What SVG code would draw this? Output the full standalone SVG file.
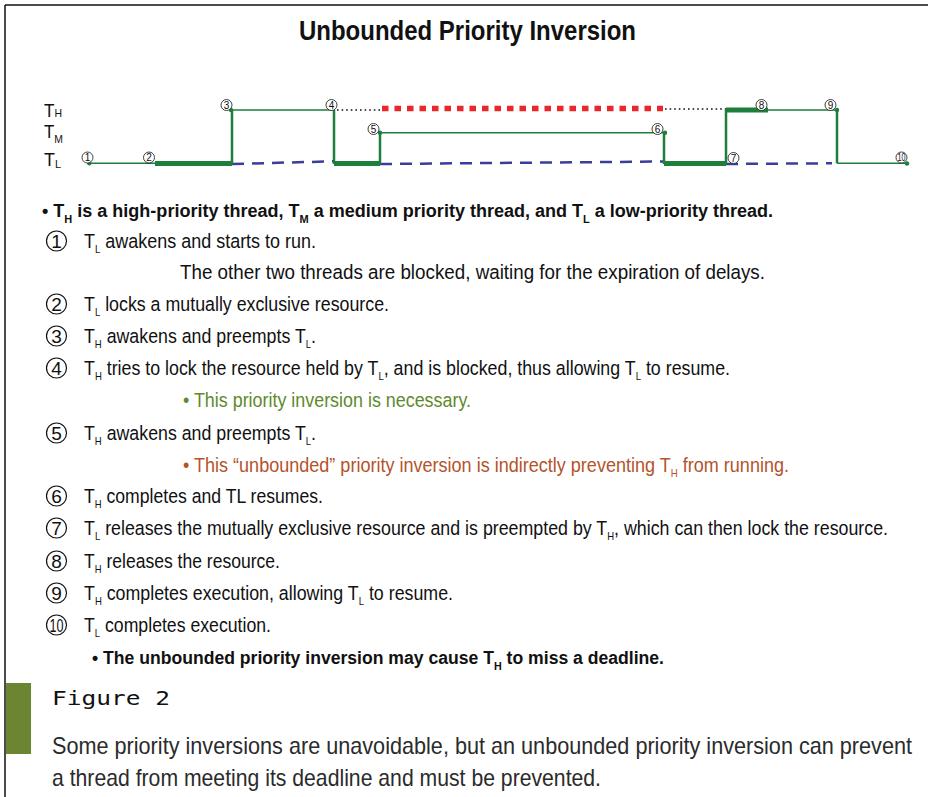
<svg xmlns="http://www.w3.org/2000/svg" width="928" height="797" viewBox="0 0 928 797">
<style>
.t{font-family:"Liberation Sans Narrow","Liberation Sans",Arial,sans-serif;fill:#111}
.reg{font-size:20.5px}
.bold{font-size:18px;font-weight:bold}
.sub{font-size:11px}
.bsub{font-size:11px;font-weight:bold}
.cn{font-family:"Liberation Sans Narrow","Liberation Sans",Arial,sans-serif;font-size:19px;fill:#111;text-anchor:middle}
.sc{font-family:"Liberation Sans Narrow","Liberation Sans",Arial,sans-serif;font-size:10px;fill:#111;text-anchor:middle}
.circ{fill:none;stroke:#111;stroke-width:1.2}
.scirc{fill:#fff;stroke:#111;stroke-width:0.8}
.g{stroke:#1e7e3c;fill:none}
.thin{stroke-width:1.6}
.vert{stroke-width:2.5}
.thick{stroke-width:5}
.blue{stroke:#3c3c9c;stroke-width:2.5;stroke-dasharray:12 8;fill:none}
.dot{stroke:#111;stroke-width:1.6;stroke-dasharray:1.6 3;fill:none}
.red{stroke:#e8262b;stroke-width:5.5;stroke-dasharray:6.5 6;fill:none}
.gd{fill:#1e7e3c}
</style>
<rect width="928" height="797" fill="#fff"/>
<g id="frame">
<line x1="5" y1="5" x2="928" y2="5" stroke="#111" stroke-width="1.5"/>
<line x1="5" y1="5" x2="5" y2="797" stroke="#111" stroke-width="1.5"/>
<rect x="6" y="683" width="25" height="71" fill="#6b8532"/>
</g>
<g id="title">
<text class="t" x="467.5" y="40" font-size="27" font-weight="bold" text-anchor="middle" textLength="337" lengthAdjust="spacingAndGlyphs">Unbounded Priority Inversion</text>
</g>
<g id="axis-labels">
<text class="t" x="44" y="117" font-size="18" textLength="18" lengthAdjust="spacingAndGlyphs">T<tspan font-size="11">H</tspan></text>
<text class="t" x="44" y="138" font-size="18" textLength="19" lengthAdjust="spacingAndGlyphs">T<tspan font-size="11" dy="5">M</tspan></text>
<text class="t" x="44" y="166" font-size="18" textLength="17" lengthAdjust="spacingAndGlyphs">T<tspan font-size="11" dy="2">L</tspan></text>
</g>
<g id="connectors">
<path class="blue" d="M232,164 L334,161.3"/>
<path class="blue" d="M380,164 L663,161.5"/>
<path class="blue" d="M726,164 L832,163.3"/>
<path class="dot" d="M337,110 H380"/>
<path class="dot" d="M665,109 H726"/>
<path class="red" d="M382,108.5 H663"/>
<path class="g thin" d="M89.3,163.3 H155 M232,110 H334 M380,132.7 H664 M768,110 H837 M837,163.3 H907"/>
<path class="g vert" d="M232,164 V110 M334,110 V164 M380,164 V132.7 M664,132.7 V164 M726,164 V110 M837,110 V163.3"/>
<path class="g thick" d="M155,163.5 H232 M334,163.5 H380 M664,163.5 H726 M726,110 H768"/>
<circle class="gd" cx="89.3" cy="163.3" r="2.2"/>
<circle class="gd" cx="231" cy="110" r="2.2"/>
<circle class="gd" cx="380" cy="132.7" r="2.2"/>
<circle class="gd" cx="665" cy="132.7" r="2.2"/>
<circle class="gd" cx="837" cy="110" r="2.2"/>
<circle class="gd" cx="907" cy="163.5" r="2.2"/>
</g>
<g id="event-markers">
<g id="m1"><circle class="scirc" cx="87.5" cy="157.5" r="5.5"/><text class="sc" x="87.5" y="161">1</text></g>
<g id="m2"><circle class="scirc" cx="149" cy="157.5" r="5.5"/><text class="sc" x="149" y="161">2</text></g>
<g id="m3"><circle class="scirc" cx="226.5" cy="105" r="5.5"/><text class="sc" x="226.5" y="108.5">3</text></g>
<g id="m4"><circle class="scirc" cx="331.5" cy="105" r="5.5"/><text class="sc" x="331.5" y="108.5">4</text></g>
<g id="m5"><circle class="scirc" cx="373.5" cy="129" r="5.5"/><text class="sc" x="373.5" y="132.5">5</text></g>
<g id="m6"><circle class="scirc" cx="657.5" cy="129" r="5.5"/><text class="sc" x="657.5" y="132.5">6</text></g>
<g id="m7"><circle class="scirc" cx="733.5" cy="158" r="5.5"/><text class="sc" x="733.5" y="161.5">7</text></g>
<g id="m8"><circle class="scirc" cx="761.5" cy="105" r="5.5"/><text class="sc" x="761.5" y="108.5">8</text></g>
<g id="m9"><circle class="scirc" cx="830.5" cy="105" r="5.5"/><text class="sc" x="830.5" y="108.5">9</text></g>
<g id="m10"><circle class="scirc" cx="901.5" cy="157.5" r="5.5"/><text class="sc" x="901.5" y="160.8" font-size="8.5" textLength="8" lengthAdjust="spacingAndGlyphs">10</text></g>
</g>
<g id="legend">
<text class="t bold" x="42" y="217" textLength="731" lengthAdjust="spacingAndGlyphs">• T<tspan class="bsub" dy="6">H</tspan><tspan dy="-6"> is a high-priority thread, T</tspan><tspan class="bsub" dy="6">M</tspan><tspan dy="-6"> a medium priority thread, and T</tspan><tspan class="bsub" dy="6">L</tspan><tspan dy="-6"> a low-priority thread.</tspan></text>
</g>
<g id="item1">
<circle class="circ" cx="56.5" cy="241" r="10"/><text class="cn" x="56.5" y="247.8">1</text>
<text class="t reg" x="84" y="248" textLength="232" lengthAdjust="spacingAndGlyphs">T<tspan class="sub" dy="5">L</tspan><tspan dy="-5"> awakens and starts to run.</tspan></text>
<text class="t reg" x="180" y="279" textLength="585" lengthAdjust="spacingAndGlyphs">The other two threads are blocked, waiting for the expiration of delays.</text>
</g>
<g id="item2">
<circle class="circ" cx="56.5" cy="304" r="10"/><text class="cn" x="56.5" y="310.8">2</text>
<text class="t reg" x="84" y="311" textLength="305" lengthAdjust="spacingAndGlyphs">T<tspan class="sub" dy="5">L</tspan><tspan dy="-5"> locks a mutually exclusive resource.</tspan></text>
</g>
<g id="item3">
<circle class="circ" cx="56.5" cy="336" r="10"/><text class="cn" x="56.5" y="342.8">3</text>
<text class="t reg" x="84" y="343" textLength="232" lengthAdjust="spacingAndGlyphs">T<tspan class="sub" dy="5">H</tspan><tspan dy="-5"> awakens and preempts T</tspan><tspan class="sub" dy="5">L</tspan><tspan dy="-5">.</tspan></text>
</g>
<g id="item4">
<circle class="circ" cx="56.5" cy="368" r="10"/><text class="cn" x="56.5" y="374.8">4</text>
<text class="t reg" x="84" y="375" textLength="646" lengthAdjust="spacingAndGlyphs">T<tspan class="sub" dy="5">H</tspan><tspan dy="-5"> tries to lock the resource held by T</tspan><tspan class="sub" dy="5">L</tspan><tspan dy="-5">, and is blocked, thus allowing T</tspan><tspan class="sub" dy="5">L</tspan><tspan dy="-5"> to resume.</tspan></text>
<text class="t reg" x="183" y="407" style="fill:#5e8a2c" textLength="288" lengthAdjust="spacingAndGlyphs">• This priority inversion is necessary.</text>
</g>
<g id="item5">
<circle class="circ" cx="56.5" cy="433" r="10"/><text class="cn" x="56.5" y="439.8">5</text>
<text class="t reg" x="84" y="440" textLength="232" lengthAdjust="spacingAndGlyphs">T<tspan class="sub" dy="5">H</tspan><tspan dy="-5"> awakens and preempts T</tspan><tspan class="sub" dy="5">L</tspan><tspan dy="-5">.</tspan></text>
<text class="t reg" x="183" y="472" style="fill:#b4532a" textLength="606" lengthAdjust="spacingAndGlyphs">• This “unbounded” priority inversion is indirectly preventing T<tspan class="sub" dy="5">H</tspan><tspan dy="-5"> from running.</tspan></text>
</g>
<g id="item6">
<circle class="circ" cx="56.5" cy="496" r="10"/><text class="cn" x="56.5" y="502.8">6</text>
<text class="t reg" x="84" y="503" textLength="239" lengthAdjust="spacingAndGlyphs">T<tspan class="sub" dy="5">H</tspan><tspan dy="-5"> completes and TL resumes.</tspan></text>
</g>
<g id="item7">
<circle class="circ" cx="56.5" cy="528" r="10"/><text class="cn" x="56.5" y="534.8">7</text>
<text class="t reg" x="84" y="535" textLength="804" lengthAdjust="spacingAndGlyphs">T<tspan class="sub" dy="5">L</tspan><tspan dy="-5"> releases the mutually exclusive resource and is preempted by T</tspan><tspan class="sub" dy="5">H</tspan><tspan dy="-5">, which can then lock the resource.</tspan></text>
</g>
<g id="item8">
<circle class="circ" cx="56.5" cy="561" r="10"/><text class="cn" x="56.5" y="567.8">8</text>
<text class="t reg" x="84" y="568" textLength="196" lengthAdjust="spacingAndGlyphs">T<tspan class="sub" dy="5">H</tspan><tspan dy="-5"> releases the resource.</tspan></text>
</g>
<g id="item9">
<circle class="circ" cx="56.5" cy="593" r="10"/><text class="cn" x="56.5" y="599.8">9</text>
<text class="t reg" x="84" y="600" textLength="369" lengthAdjust="spacingAndGlyphs">T<tspan class="sub" dy="5">H</tspan><tspan dy="-5"> completes execution, allowing T</tspan><tspan class="sub" dy="5">L</tspan><tspan dy="-5"> to resume.</tspan></text>
</g>
<g id="item10">
<circle class="circ" cx="56.5" cy="625" r="10"/><text class="cn" x="56.5" y="631.5" font-size="17" textLength="14" lengthAdjust="spacingAndGlyphs">10</text>
<text class="t reg" x="84" y="632" textLength="187" lengthAdjust="spacingAndGlyphs">T<tspan class="sub" dy="5">L</tspan><tspan dy="-5"> completes execution.</tspan></text>
</g>
<g id="conclusion">
<text class="t bold" x="92" y="664" textLength="572" lengthAdjust="spacingAndGlyphs">• The unbounded priority inversion may cause T<tspan class="bsub" dy="6">H</tspan><tspan dy="-6"> to miss a deadline.</tspan></text>
</g>
<g id="caption">
<text x="52" y="705" font-family="'DejaVu Sans Mono','Liberation Mono',monospace" font-size="19" fill="#111" textLength="118" lengthAdjust="spacingAndGlyphs">Figure 2</text>
<text class="t" x="52" y="754" font-size="24" style="fill:#2b2b2b" textLength="860" lengthAdjust="spacingAndGlyphs">Some priority inversions are unavoidable, but an unbounded priority inversion can prevent</text>
<text class="t" x="52" y="786" font-size="24" style="fill:#2b2b2b" textLength="549" lengthAdjust="spacingAndGlyphs">a thread from meeting its deadline and must be prevented.</text>
</g>
</svg>
